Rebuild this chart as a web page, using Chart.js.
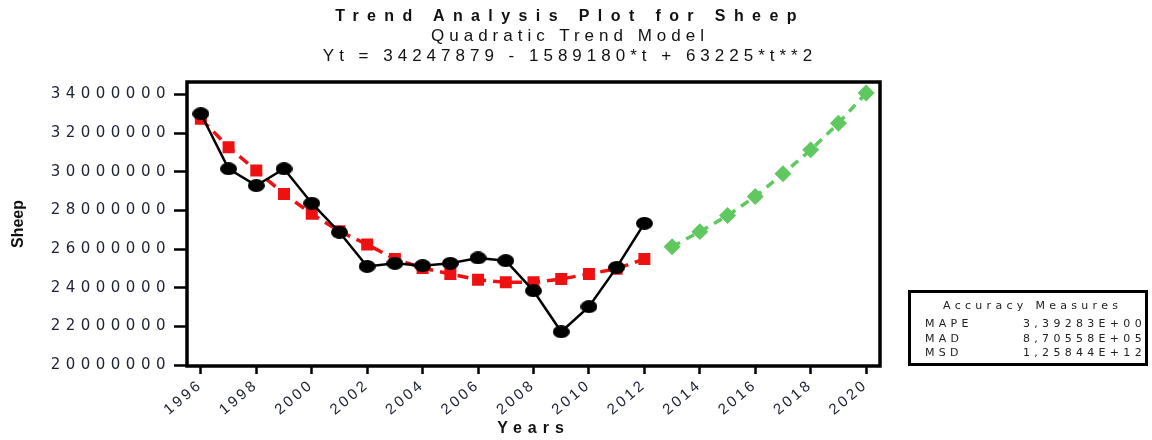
<!DOCTYPE html>
<html>
<head>
<meta charset="utf-8">
<script src="https://cdn.jsdelivr.net/npm/chart.js@4.4.1/dist/chart.umd.min.js"></script>
<style>
  body { margin: 0; background: #fff; }
  #wrap { position: relative; width: 1152px; height: 440px; overflow: hidden; }
  #chart { position: absolute; left: 0; top: 0; }
  .titles { position: absolute; left: 270px; top: 6px; width: 600px; text-align: center; color: #111;
            font-family: "Liberation Sans Narrow", "Liberation Sans", sans-serif; }
  .titles div { height: 20px; line-height: 20px; white-space: pre; }
  .t1 { font-size: 16px; font-weight: bold; letter-spacing: 8.4px; }
  .t2 { font-size: 17px; letter-spacing: 5px; }
  .t3 { font-size: 17px; letter-spacing: 5px; }
  #acc { position: absolute; left: 908px; top: 290px; width: 234px; height: 70px; border: 3px solid #000;
         font-family: "DejaVu Sans", sans-serif; font-size: 11px; color: #222; letter-spacing: 4.3px; }
  #acc .head { position: absolute; left: 32px; top: 6px; }
  #acc .row { position: absolute; left: 14px; }
  #acc .val { position: absolute; left: 112px; }
</style>
</head>
<body>
<div id="wrap">
  <canvas id="chart" width="1152" height="440"></canvas>
  <div class="titles">
    <div class="t1">Trend Analysis Plot for Sheep</div>
    <div class="t2">Quadratic Trend Model</div>
    <div class="t3">Yt = 34247879 - 1589180*t + 63225*t**2</div>
  </div>
  <div id="acc">
    <div class="head">Accuracy Measures</div>
    <div class="row" style="top:24px">MAPE</div><div class="val" style="top:24px">3,39283E+00</div>
    <div class="row" style="top:39px">MAD</div><div class="val" style="top:39px">8,70558E+05</div>
    <div class="row" style="top:53px">MSD</div><div class="val" style="top:53px">1,25844E+12</div>
  </div>
</div>
<script>
// Observed years and values
const years = [1996, 1997, 1998, 1999, 2000, 2001, 2002, 2003, 2004, 2005, 2006, 2007, 2008, 2009, 2010, 2011, 2012];
const sheepActual = [33000000, 30150000, 29280000, 30150000, 28370000, 26870000, 25100000, 25260000, 25140000,
                     25260000, 25540000, 25400000, 23840000, 21720000, 23020000, 25050000, 27330000];
const sheepFits = [32740000, 31270000, 30060000, 28850000, 27820000, 26920000, 26230000, 25490000, 25020000,
                   24710000, 24410000, 24280000, 24280000, 24450000, 24710000, 24980000, 25490000];

// Forecast part
const forecastYears = [2013, 2014, 2015, 2016, 2017, 2018, 2019, 2020];
const sheepForecast = [26120000, 26900000, 27730000, 28720000, 29890000, 31130000, 32510000, 34070000];

// Axis ticks
const xTickValues = [1996, 1998, 2000, 2002, 2004, 2006, 2008, 2010, 2012, 2014, 2016, 2018, 2020];
const yTickValues = [20000000, 22000000, 24000000, 26000000, 28000000, 30000000, 32000000, 34000000];

const toPoints = (xs, ys) => xs.map((x, i) => ({ x: x, y: ys[i] }));

// flat black ellipse used as the marker of the observed series
function ellipseMarker() {
  const c = document.createElement('canvas');
  c.width = 17;
  c.height = 13;
  const g = c.getContext('2d');
  g.fillStyle = '#000';
  g.beginPath();
  g.ellipse(8.5, 6.5, 8.5, 6.5, 0, 0, Math.PI * 2);
  g.fill();
  return c;
}

// letter spacing for the axis text (canvas has no option for it in Chart.js)
const spacing = { x: { labels: '3px', title: '6px' }, y: { labels: '5.5px', title: '0px' } };
const spacingPlugin = {
  id: 'spacing',
  afterLayout(chart) {
    Object.keys(spacing).forEach(id => {
      const s = chart.scales[id];
      if (!s || s._spaced) return;
      const drawLabels = s.drawLabels.bind(s);
      const drawTitle = s.drawTitle.bind(s);
      s.drawLabels = area => { chart.ctx.letterSpacing = spacing[id].labels; drawLabels(area); chart.ctx.letterSpacing = '0px'; };
      s.drawTitle = area => { chart.ctx.letterSpacing = spacing[id].title; drawTitle(area); chart.ctx.letterSpacing = '0px'; };
      s._spaced = true;
    });
  }
};

// black frame round the plot
const framePlugin = {
  id: 'frame',
  afterDraw(chart) {
    const a = chart.chartArea;
    const ctx = chart.ctx;
    ctx.save();
    ctx.strokeStyle = '#000';
    ctx.lineWidth = 3.5;
    ctx.strokeRect(a.left, a.top, a.right - a.left, a.bottom - a.top);
    ctx.restore();
  }
};

new Chart(document.getElementById('chart'), {
  type: 'line',
  data: {
    datasets: [
      {
        label: 'Actual',
        data: toPoints(years, sheepActual),
        borderColor: '#000',
        backgroundColor: '#000',
        borderWidth: 2.5,
        pointStyle: ellipseMarker(),
        pointRadius: 7,
        pointHoverRadius: 7,
        order: 0
      },
      {
        label: 'Fits',
        data: toPoints(years, sheepFits),
        borderColor: '#ee1111',
        backgroundColor: '#ee1111',
        borderWidth: 3.5,
        borderDash: [11, 7],
        pointStyle: 'rect',
        pointRadius: 6,
        pointHoverRadius: 6,
        order: 1
      },
      {
        label: 'Forecasts',
        data: toPoints(forecastYears, sheepForecast),
        borderColor: '#5fc85f',
        backgroundColor: '#5fc85f',
        borderWidth: 3.5,
        borderDash: [9, 7],
        pointStyle: 'rectRot',
        pointRadius: 6,
        pointHoverRadius: 6,
        order: 2
      }
    ]
  },
  options: {
    responsive: false,
    animation: false,
    layout: { padding: { top: 82, right: 272, left: 0, bottom: 0 } },
    plugins: {
      legend: { display: false },
      tooltip: { enabled: false },
      title: { display: false }
    },
    scales: {
      x: {
        type: 'linear',
        min: 1995.5,
        max: 2020.5,
        afterBuildTicks: scale => { scale.ticks = xTickValues.map(v => ({ value: v })); },
        afterFit: scale => { scale.height = 74; },
        grid: { drawOnChartArea: false, drawTicks: true, tickLength: 8, tickWidth: 2.5, tickColor: '#000' },
        border: { display: false },
        ticks: {
          autoSkip: false,
          minRotation: 40,
          maxRotation: 40,
          padding: 2,
          color: '#1d2233',
          font: { family: 'Liberation Sans', size: 15 },
          callback: v => String(v)
        },
        title: {
          display: true,
          text: 'Years',
          color: '#111',
          padding: { top: 0, bottom: 2 },
          font: { family: 'Liberation Sans', size: 16, weight: 'bold' }
        }
      },
      y: {
        type: 'linear',
        min: 19950000,
        max: 34640000,
        afterBuildTicks: scale => { scale.ticks = yTickValues.map(v => ({ value: v })); },
        afterFit: scale => { scale.width = 187; },
        grid: { drawOnChartArea: false, drawTicks: true, tickLength: 13, tickWidth: 2.5, tickColor: '#000' },
        border: { display: false },
        ticks: {
          padding: 3,
          color: '#1d2233',
          font: { family: 'DejaVu Sans', size: 15 },
          callback: v => String(v)
        },
        title: {
          display: true,
          text: 'Sheep',
          color: '#111',
          padding: { top: 9, bottom: 0 },
          font: { family: 'Liberation Sans', size: 16, weight: 'bold' }
        }
      }
    }
  },
  plugins: [spacingPlugin, framePlugin]
});
</script>
</body>
</html>
